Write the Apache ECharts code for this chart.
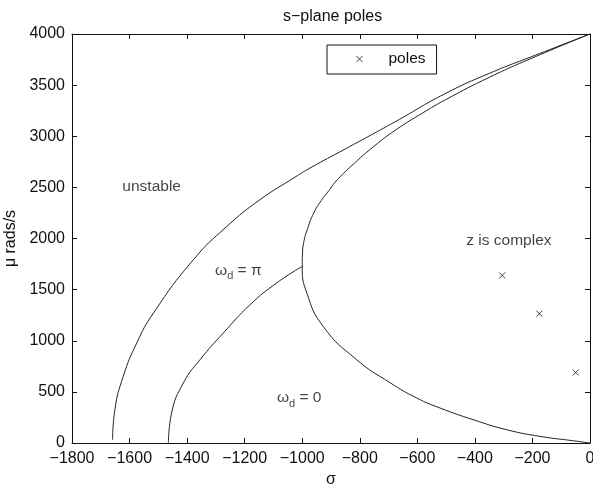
<!DOCTYPE html>
<html>
<head>
<meta charset="utf-8">
<script src="https://cdn.jsdelivr.net/npm/echarts@6/dist/echarts.min.js"></script>
<style>
html, body { margin: 0; padding: 0; background: #fff; }
#chart { width: 593px; height: 486px; }
</style>
</head>
<body>
<div id="chart"></div>
<script>
// Stability boundary (outer curve)
const unstableSigma = [-1659, -1651, -1622, -1575, -1517, -1378, -1262, -1147, -1025, -973, -851, -678, -504, -348, -174, 0];
const unstableMu    = [30, 326, 651, 978, 1271, 1793, 2118, 2379, 2600, 2689, 2875, 3140, 3416, 3617, 3810, 4000];

// Boundary between omega_d = pi and omega_d = 0
const piSigma = [-1465, -1454, -1413, -1355, -1274, -1181, -1089, -1000];
const piMu    = [0, 293, 587, 815, 1076, 1353, 1565, 1727];

// Edge of the region where z is complex
const complexSigma = [0, -58, -174, -290, -406, -521, -602, -695, -811, -927, -984, -1000, -999, -995, -981, -960, -934, -905, -878, -818, -751, -674, -582, -502, -348, -176, 0];
const complexMu    = [0, 22, 65, 130, 228, 342, 440, 590, 815, 1140, 1467, 1727, 1850, 1960, 2100, 2249, 2370, 2477, 2575, 2738, 2901, 3064, 3227, 3357, 3579, 3795, 4000];

// Pole locations
const poleSigma = [-305, -176, -50];
const poleMu    = [1639, 1265, 690];

// Region annotations (anchor = left edge, vertical centre)
const noteSigma = [-1625, -430, -1303, -1088];
const noteMu    = [2505, 1975, 1685, 440];
const noteText  = ['unstable', 'z is complex', '{w|ω}{d|d}{w| = π}', '{w|ω}{d|d}{w| = 0}'];

const xMin = -1800, xMax = 0, xStep = 200;
const yMin = 0, yMax = 4000, yStep = 500;

const FONT = '"Liberation Sans", Arial, Helvetica, sans-serif';
const INK = '#111';

const zip = (a, b) => a.map((v, i) => [v, b[i]]);
const minusFmt = v => (v < 0 ? '\u2212' + Math.abs(v) : String(v));

const baseAxis = {
  axisLine: { show: true, onZero: false, lineStyle: { color: INK, width: 1 } },
  axisTick: { show: true, inside: true, length: 5, lineStyle: { color: INK, width: 1 } },
  splitLine: { show: false }
};

const curveStyle = { color: '#222', width: 1 };

const chart = echarts.init(document.getElementById('chart'), null, { renderer: 'canvas' });
chart.setOption({
  animation: false,
  backgroundColor: '#fff',
  textStyle: { fontFamily: FONT, color: INK },
  title: {
    text: 's\u2212plane poles',
    left: 283, top: 9, padding: 0,
    textStyle: { fontFamily: FONT, fontSize: 16, fontWeight: 'normal', color: INK }
  },
  grid: { left: 72, right: 3, top: 34, bottom: 43, containLabel: false, outerBoundsMode: 'none' },
  legend: {
    data: [{ name: 'poles', icon: 'path://M0,0L10,10M10,0L0,10' }],
    left: 327, top: 45,
    orient: 'horizontal',
    borderColor: INK, borderWidth: 1,
    padding: [6, 11, 7, 29],
    itemWidth: 8, itemHeight: 6, itemGap: 0,
    selectedMode: false,
    itemStyle: { color: 'transparent', borderColor: INK, borderWidth: 1 },
    textStyle: { fontFamily: FONT, fontSize: 15.5, color: INK, padding: [0, 0, 0, 20] }
  },
  xAxis: [
    Object.assign({}, baseAxis, {
      type: 'value', position: 'bottom', min: xMin, max: xMax, interval: xStep,
      name: '\u03c3', nameLocation: 'middle', nameGap: 27,
      nameTextStyle: { fontFamily: FONT, fontSize: 16, color: INK },
      axisLabel: { show: true, color: INK, fontFamily: FONT, fontSize: 16, margin: 8, formatter: minusFmt }
    }),
    Object.assign({}, baseAxis, {
      type: 'value', position: 'top', min: xMin, max: xMax, interval: xStep,
      axisLabel: { show: false }
    })
  ],
  yAxis: [
    Object.assign({}, baseAxis, {
      type: 'value', position: 'left', min: yMin, max: yMax, interval: yStep,
      name: '\u03bc rads/s', nameLocation: 'middle', nameGap: 47, nameRotate: 90,
      nameTextStyle: { fontFamily: FONT, fontSize: 16, color: INK },
      axisLabel: { show: true, color: INK, fontFamily: FONT, fontSize: 16, margin: 7, formatter: v => String(v) }
    }),
    Object.assign({}, baseAxis, {
      type: 'value', position: 'right', min: yMin, max: yMax, interval: yStep,
      axisLabel: { show: false }
    })
  ],
  series: [
    {
      name: 'unstable edge', type: 'line', data: zip(unstableSigma, unstableMu),
      showSymbol: false, smooth: 0.5, lineStyle: curveStyle, silent: true
    },
    {
      name: 'pi edge', type: 'line', data: zip(piSigma, piMu),
      showSymbol: false, smooth: 0.5, lineStyle: curveStyle, silent: true
    },
    {
      name: 'complex edge', type: 'line', data: zip(complexSigma, complexMu),
      showSymbol: false, smooth: 0.5, lineStyle: curveStyle, silent: true
    },
    {
      name: 'poles', type: 'scatter', data: zip(poleSigma, poleMu),
      symbol: 'path://M0,0L10,10M10,0L0,10', symbolSize: 6,
      itemStyle: { color: 'transparent', borderColor: INK, borderWidth: 1 },
      silent: true
    },
    {
      name: 'notes', type: 'scatter', symbolSize: 0, silent: true,
      data: noteSigma.map((s, i) => ({ value: [s, noteMu[i]], text: noteText[i] })),
      label: {
        show: true, position: [0, 0], align: 'left', verticalAlign: 'middle',
        formatter: p => p.data.text,
        color: INK, fontFamily: FONT, fontSize: 15.5,
        rich: {
          w: { fontFamily: FONT, fontSize: 15.5, color: INK },
          d: { fontFamily: FONT, fontSize: 11, color: INK, padding: [11, 0, 0, 0] }
        }
      }
    }
  ]
});
</script>
</body>
</html>
